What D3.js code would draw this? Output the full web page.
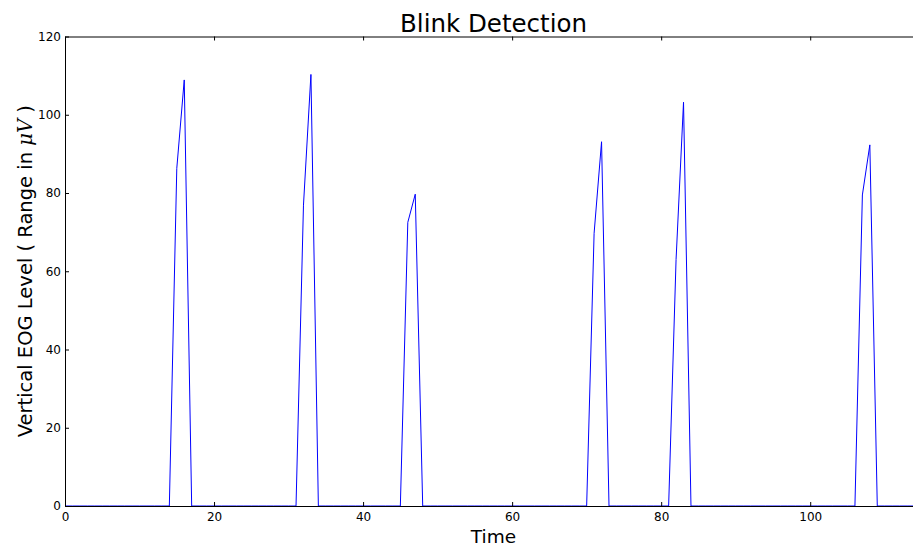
<!DOCTYPE html>
<html>
<head>
<meta charset="utf-8">
<script src="https://cdn.jsdelivr.net/npm/d3@7"></script>
<style>
  body { margin: 0; background: #fff; }
  svg { display: block; font-family: "DejaVu Sans", sans-serif; }
</style>
</head>
<body>
<svg id="chart" width="913" height="549"></svg>
<script>
// vertical EOG level, one value per time step (index = time)
var eogLevel = [
  0, 0, 0, 0, 0, 0, 0, 0, 0, 0,
  0, 0, 0, 0, 0, 86.3, 108.9, 0, 0, 0,
  0, 0, 0, 0, 0, 0, 0, 0, 0, 0,
  0, 0, 76.9, 110.3, 0, 0, 0, 0, 0, 0,
  0, 0, 0, 0, 0, 0, 72.5, 79.7, 0, 0,
  0, 0, 0, 0, 0, 0, 0, 0, 0, 0,
  0, 0, 0, 0, 0, 0, 0, 0, 0, 0,
  0, 69.7, 93.1, 0, 0, 0, 0, 0, 0, 0,
  0, 0, 63, 103.2, 0, 0, 0, 0, 0, 0,
  0, 0, 0, 0, 0, 0, 0, 0, 0, 0,
  0, 0, 0, 0, 0, 0, 0, 79.5, 92.3, 0,
  0, 0, 0, 0, 0, 0
];
var xTicks = [0, 20, 40, 60, 80, 100];
var yTicks = [0, 20, 40, 60, 80, 100, 120];

var svg = d3.select("#chart");
// plot box (right edge falls just outside the picture)
var plotLeft = 65, plotRight = 922, plotTop = 36.5, plotBottom = 506;

var x = d3.scaleLinear().domain([0, 115]).range([plotLeft, plotRight]);
var y = d3.scaleLinear().domain([0, 120]).range([plotBottom, plotTop]);

// the line
var line = d3.line()
  .x(function (d, i) { return x(i); })
  .y(function (d) { return y(d); });

svg.append("path")
  .datum(eogLevel)
  .attr("d", line)
  .attr("fill", "none")
  .attr("stroke", "#0000ff")
  .attr("stroke-width", 1);

// axes, ticks pointing inward like matplotlib classic
svg.append("g")
  .attr("transform", "translate(0," + plotBottom + ")")
  .call(d3.axisBottom(x).tickValues(xTicks).tickSizeInner(-4).tickSizeOuter(0).tickPadding(6).tickFormat(d3.format("d")));
svg.append("g")
  .attr("transform", "translate(0," + plotTop + ")")
  .call(d3.axisTop(x).tickValues(xTicks).tickSizeInner(-4).tickSizeOuter(0).tickFormat(""));
svg.append("g")
  .attr("transform", "translate(" + plotLeft + ",0)")
  .call(d3.axisLeft(y).tickValues(yTicks).tickSizeInner(-4).tickSizeOuter(0).tickPadding(4).tickFormat(d3.format("d")));
svg.append("g")
  .attr("transform", "translate(" + plotRight + ",0)")
  .call(d3.axisRight(y).tickValues(yTicks).tickSizeInner(-4).tickSizeOuter(0).tickFormat(""));

svg.selectAll(".domain").attr("stroke", "#000");
svg.selectAll(".tick line").attr("stroke", "#000");
svg.selectAll(".tick text")
  .attr("fill", "#000")
  .style("font-family", "DejaVu Sans")
  .style("font-size", "12px");

// title and labels
svg.append("text")
  .attr("x", (plotLeft + plotRight) / 2)
  .attr("y", 32)
  .attr("text-anchor", "middle")
  .style("font-size", "24.5px")
  .text("Blink Detection");

svg.append("text")
  .attr("x", (plotLeft + plotRight) / 2)
  .attr("y", 543)
  .attr("text-anchor", "middle")
  .style("font-size", "18.5px")
  .text("Time");

var yl = svg.append("text")
  .attr("transform", "translate(32," + ((plotTop + plotBottom) / 2) + ") rotate(-90)")
  .attr("text-anchor", "middle")
  .style("font-size", "19.5px");
yl.append("tspan").text("Vertical EOG Level ( Range in ");
yl.append("tspan").style("font-style", "italic").style("font-family", "DejaVu Serif").text("\u03bcV");
yl.append("tspan").text(" )");
</script>
</body>
</html>
